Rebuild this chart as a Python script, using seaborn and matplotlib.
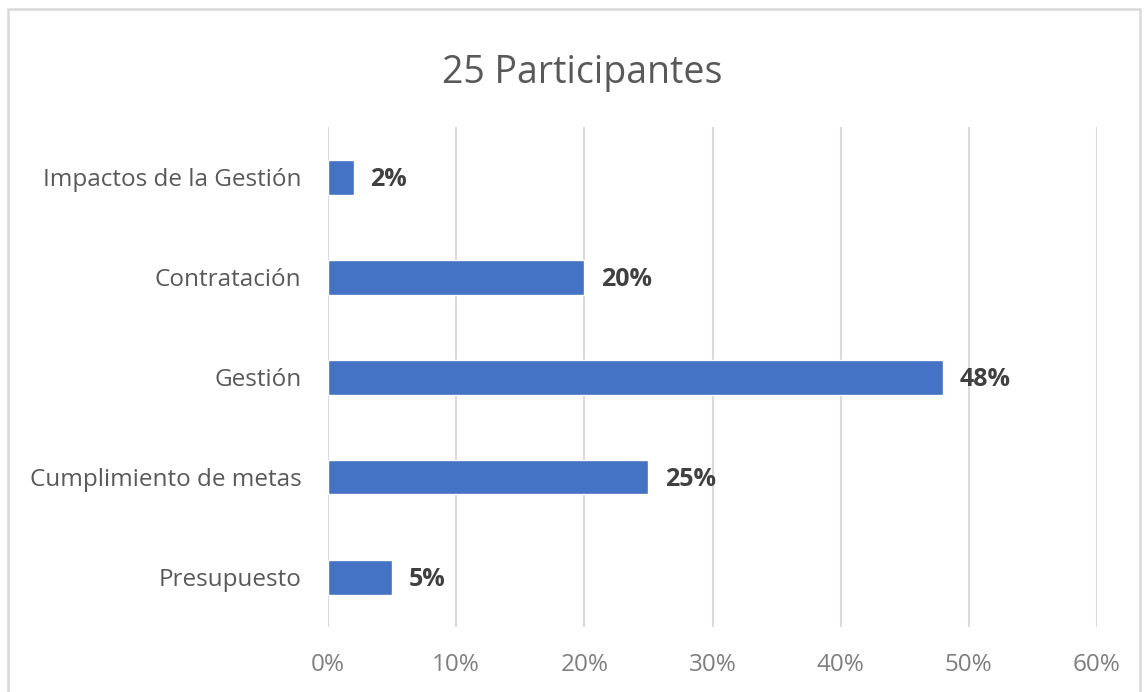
import matplotlib
matplotlib.use("Agg")
import matplotlib.pyplot as plt
import seaborn as sns
import pandas as pd
from matplotlib.patches import Rectangle

categories = ["Impactos de la Gestión", "Contratación", "Gestión",
              "Cumplimiento de metas", "Presupuesto"]
values = [2, 20, 48, 25, 5]
xticks = [0, 10, 20, 30, 40, 50, 60]
title = "25 Participantes"

sns.set_theme(style="white")
plt.rcParams["font.family"] = ["Open Sans", "DejaVu Sans"]

df = pd.DataFrame({"tema": categories, "pct": values})

fig = plt.figure(figsize=(11.44, 6.92), dpi=100)
ax = fig.add_axes([328 / 1144, 1 - 627 / 692, 769 / 1144, 500 / 692])

sns.barplot(data=df, x="pct", y="tema", order=categories, orient="h",
            color="#4472C4", saturation=1, width=0.35, ax=ax, zorder=3)

ax.set_xlim(0, 60)
ax.set_ylim(4.5, -0.5)
ax.set_xticks(xticks)
ax.set_xticklabels([f"{t}%" for t in xticks])
ax.grid(axis="x", color="#D9D9D9", linewidth=1.5, zorder=0)
ax.grid(axis="y", visible=False)
for s in ax.spines.values():
    s.set_visible(False)
ax.set_xlabel("")
ax.set_ylabel("")
ax.tick_params(axis="x", length=0, pad=19, labelsize=17.5, labelcolor="#7F7F7F")
ax.tick_params(axis="y", length=0, pad=19, labelsize=17.5, labelcolor="#595959")

for i, v in enumerate(values):
    ax.annotate(f"{v}%", xy=(v, i), xytext=(12, 0), textcoords="offset points",
                ha="left", va="center_baseline", fontsize=18, fontweight="bold",
                color="#404040")

fig.text(582 / 1144, 1 - 73 / 692, title, ha="center", va="center",
         fontsize=27, color="#595959")

fig.patches.append(Rectangle((8 / 1144, -0.05), 1132 / 1144, 1.05 - 9 / 692,
                             transform=fig.transFigure, fill=False,
                             edgecolor="#D9D9D9", linewidth=1.8))

fig.savefig("out.png", dpi=100, facecolor="white")
